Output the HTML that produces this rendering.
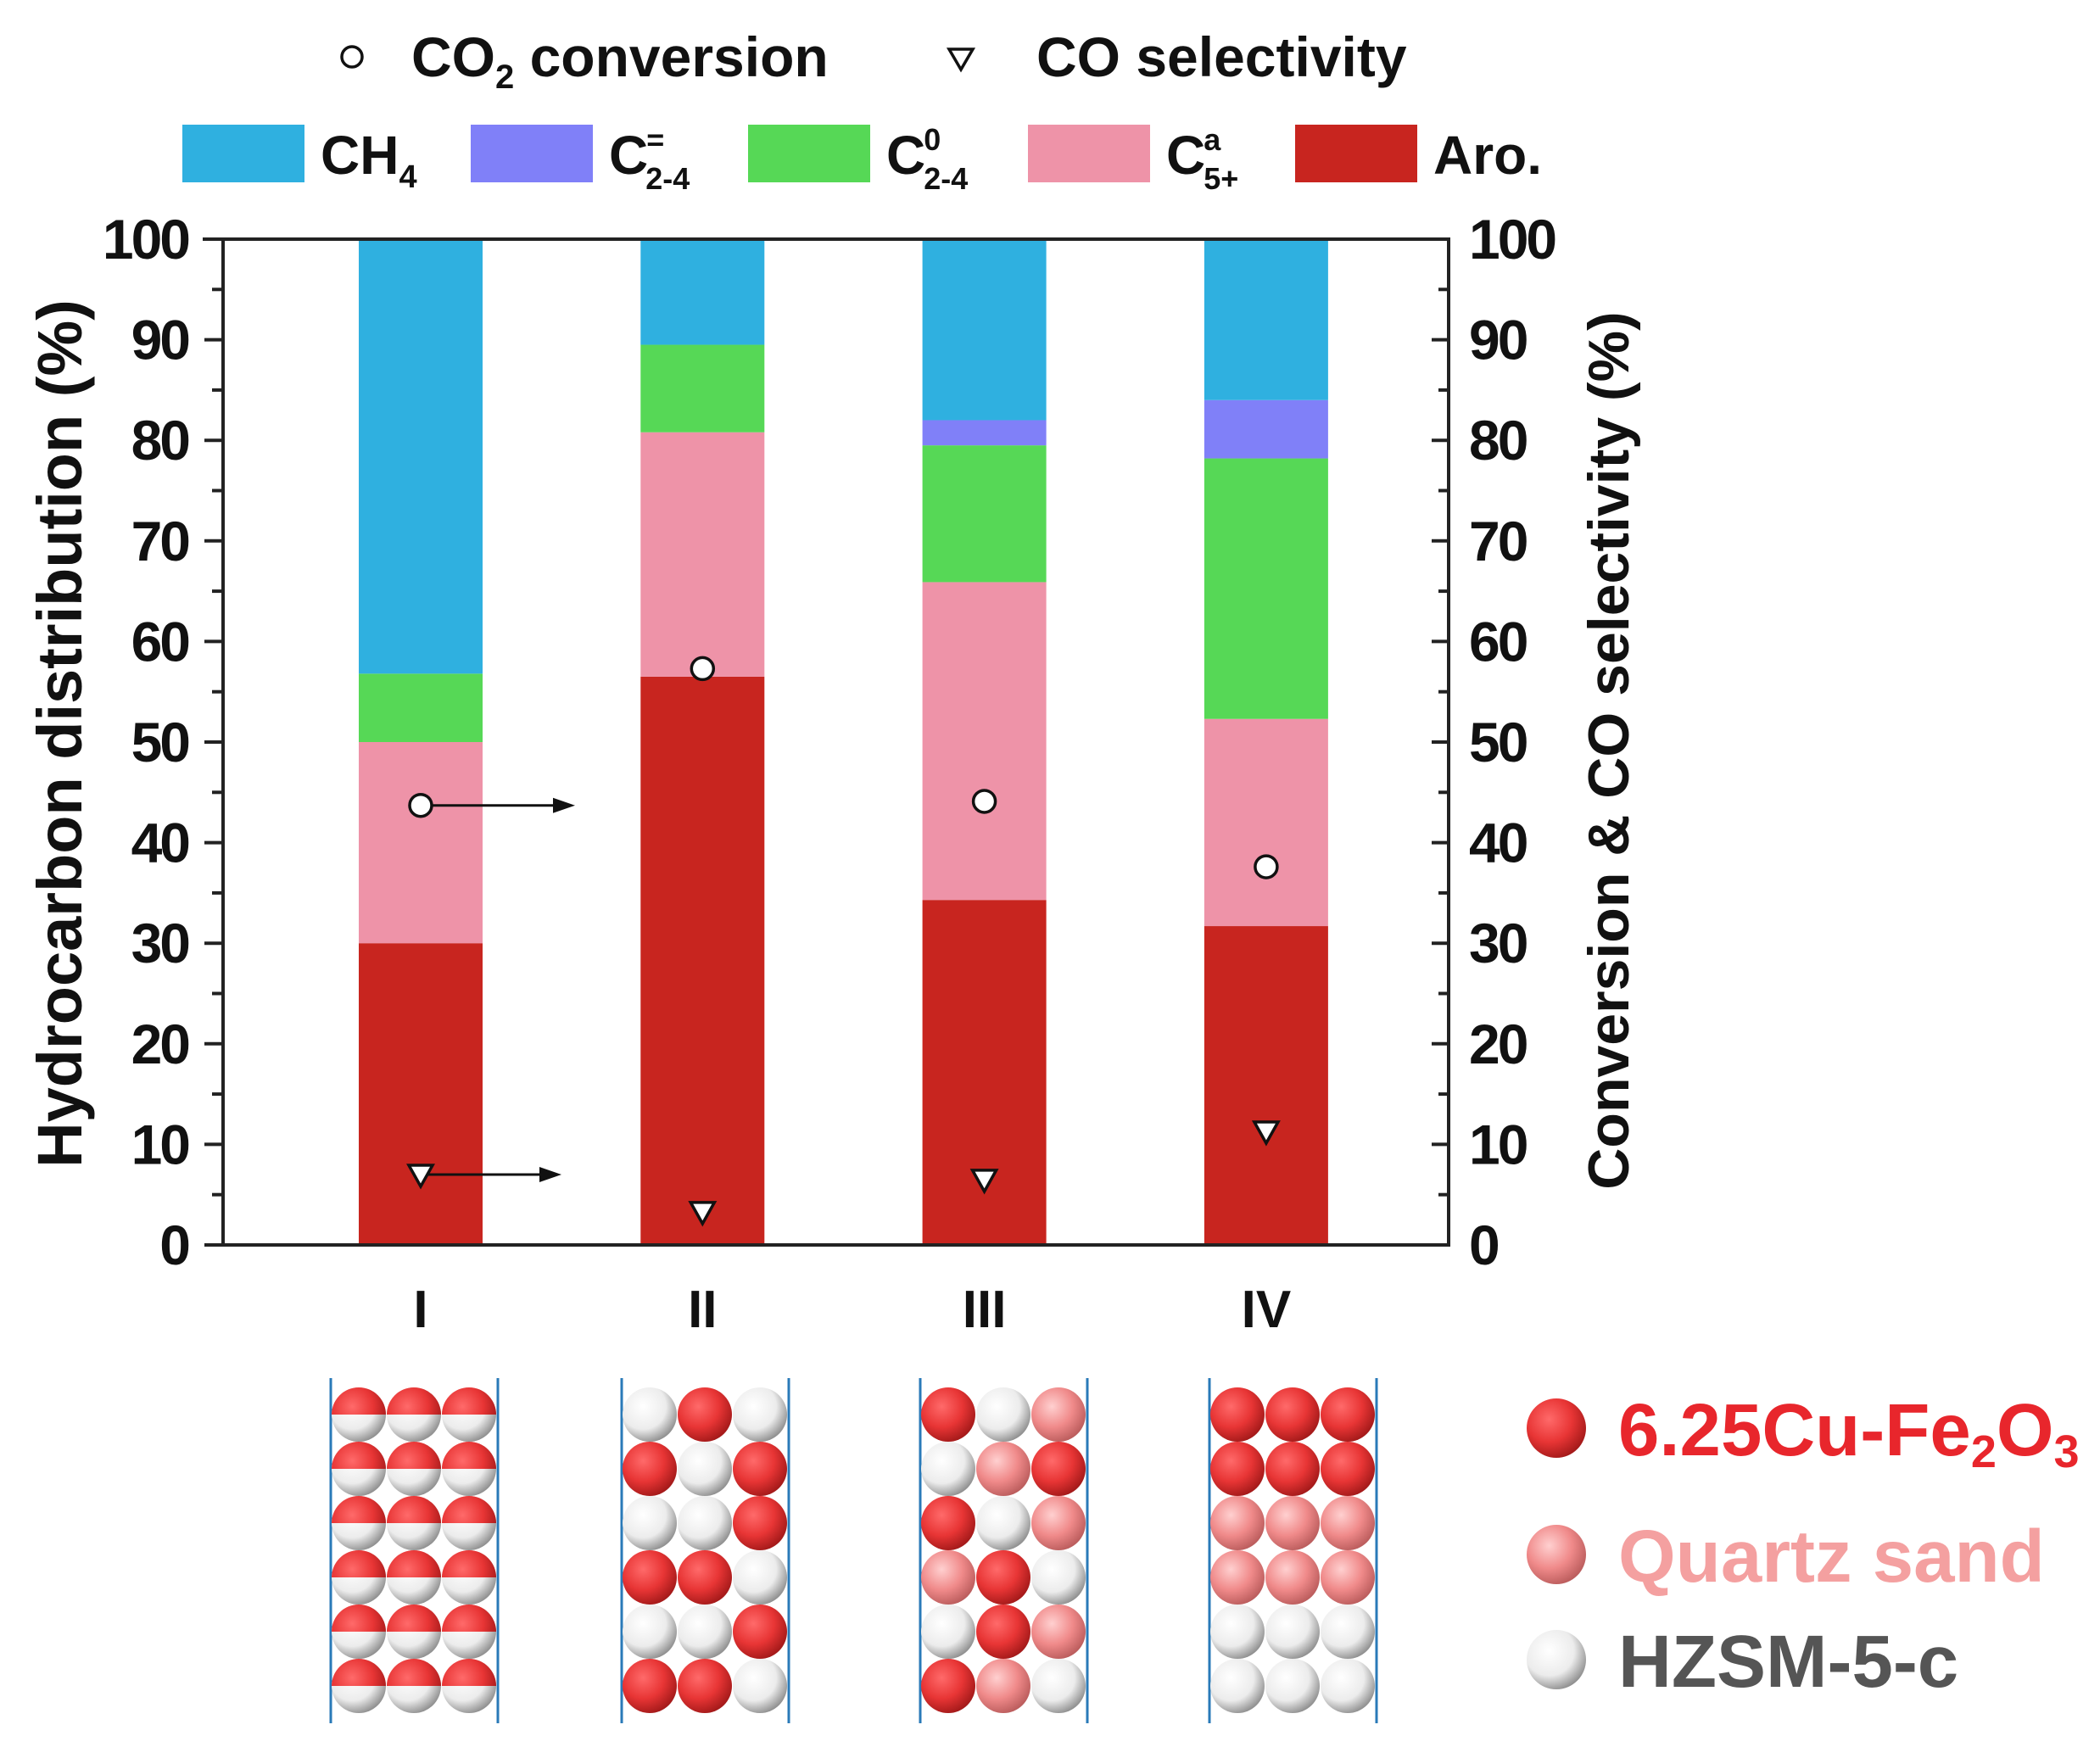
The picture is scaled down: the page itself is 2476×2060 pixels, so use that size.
<!DOCTYPE html>
<html><head><meta charset="utf-8"><style>
html,body{margin:0;padding:0;background:#fff;}
svg{display:block;font-family:"Liberation Sans",Arial,sans-serif;font-weight:bold;}
</style></head><body>
<svg id="chart" width="2476" height="2060" viewBox="0 0 2476 2060" xmlns="http://www.w3.org/2000/svg">
<defs>
<radialGradient id="gRed" cx="0.38" cy="0.35" r="0.7"><stop offset="0" stop-color="#ff6a6a"/><stop offset="0.55" stop-color="#e83535"/><stop offset="1" stop-color="#a01818"/></radialGradient>
<radialGradient id="gPink" cx="0.38" cy="0.35" r="0.7"><stop offset="0" stop-color="#ffd0d0"/><stop offset="0.55" stop-color="#f08a8a"/><stop offset="1" stop-color="#b85a5a"/></radialGradient>
<radialGradient id="gWhite" cx="0.38" cy="0.35" r="0.7"><stop offset="0" stop-color="#ffffff"/><stop offset="0.6" stop-color="#ececec"/><stop offset="1" stop-color="#8a8a8a"/></radialGradient>
<clipPath id="topHalf"><rect x="-40" y="-40" width="80" height="40"/></clipPath>
</defs>
<g id="legend"></g>
<g id="plot"></g>
<g id="beds"></g>
</svg>
<script>
const categories = ["I","II","III","IV"];
const aro = [30.0, 56.5, 34.3, 31.7];
const c5 = [20.0, 24.3, 31.6, 20.6];
const c0 = [6.8, 8.7, 13.6, 25.9];
const cOlef = [0.0, 0.0, 2.5, 5.8];
const ch4 = [43.2, 10.5, 18.0, 16.0];
const conversion = [43.7, 57.3, 44.1, 37.6];
const coSel = [7.0, 3.3, 6.5, 11.3];
const yTicks = [0,10,20,30,40,50,60,70,80,90,100];

const NS = "http://www.w3.org/2000/svg";
const X0 = 263, X1 = 1708, Y0 = 1468, Y1 = 282;
const yScale = v => Y0 - (v/100)*(Y0-Y1);
const xScale = i => 496 + i*332.3;
const BW = 146;
function mk(tag, attrs, parent){const e=document.createElementNS(NS,tag);for(const k in attrs)e.setAttribute(k,attrs[k]);parent.appendChild(e);return e;}
const plot = document.getElementById('plot');
const legend = document.getElementById('legend');
const beds = document.getElementById('beds');

const series = [
 {vals:aro,color:"#c8251f",name:"aro"},
 {vals:c5,color:"#ee93a8",name:"c5plus"},
 {vals:c0,color:"#56d856",name:"c2-4-paraffin"},
 {vals:cOlef,color:"#8080f8",name:"c2-4-olefin"},
 {vals:ch4,color:"#2fb0e0",name:"ch4"}];
categories.forEach((c,i)=>{
  let acc=0;
  series.forEach(s=>{
    const v=s.vals[i];
    if(v>0){
      const r=mk('rect',{x:xScale(i)-BW/2,y:yScale(acc+v),width:BW,height:yScale(acc)-yScale(acc+v),fill:s.color},plot);
      
      
    }
    acc+=v;
  });
  const t=mk('text',{x:xScale(i),y:1565,'font-size':62,'text-anchor':'middle',fill:'#111'},plot);
  t.textContent=c;
  
  
});
const frame=mk('path',{d:`M${X0} ${Y1}V${Y0}H${X1}V${Y1}H${X0-24}`,fill:'none',stroke:'#222','stroke-width':4},plot);


yTicks.forEach(v=>{
  const y=yScale(v);
  mk('line',{x1:X0-22,x2:X0,y1:y,y2:y,stroke:'#222','stroke-width':4},plot);
  mk('line',{x1:X1-20,x2:X1,y1:y,y2:y,stroke:'#222','stroke-width':4},plot);
  if(v<100){const ym=yScale(v+5);
    mk('line',{x1:X0-13,x2:X0,y1:ym,y2:ym,stroke:'#222','stroke-width':4},plot);
    mk('line',{x1:X1-12,x2:X1,y1:ym,y2:ym,stroke:'#222','stroke-width':4},plot);}
  const tl=mk('text',{x:222,y:y+23,'font-size':66,'text-anchor':'end','letter-spacing':-3,fill:'#111'},plot);
  tl.textContent=v;
  
  
  const tr=mk('text',{x:1732,y:y+23,'font-size':66,'letter-spacing':-3,fill:'#111'},plot);
  tr.textContent=v;
  
  
});
const yl=mk('text',{x:0,y:0,'font-size':74,'text-anchor':'middle',transform:`translate(96,${(Y0+Y1)/2-10}) rotate(-90)`,fill:'#111'},plot);
yl.textContent="Hydrocarbon distribution (%)";


const yr=mk('text',{x:0,y:0,'font-size':68,'text-anchor':'middle',transform:`translate(1920,${(Y0+Y1)/2+10}) rotate(-90)`,fill:'#111'},plot);
yr.textContent="Conversion & CO selectivity (%)";


function arrow(x,y,x2,name){
  const g=mk('g',{},plot);
  
  
  mk('line',{x1:x,x2:x2-20,y1:y,y2:y,stroke:'#111','stroke-width':3},g);
  mk('path',{d:`M${x2} ${y}l-26 -9v18z`,fill:'#111'},g);
}
arrow(xScale(0),yScale(conversion[0]),678,'arrow-conversion');
arrow(xScale(0),yScale(coSel[0]),662,'arrow-selectivity');
categories.forEach((c,i)=>{
  const cc=mk('circle',{cx:xScale(i),cy:yScale(conversion[i]),r:13,fill:'#fff',stroke:'#111','stroke-width':3.5},plot);
  
  
  const x=xScale(i),y=yScale(coSel[i]);
  const tri=mk('path',{d:`M${x-14} ${y-11}H${x+14}L${x} ${y+14}Z`,fill:'#fff',stroke:'#111','stroke-width':3.5},plot);
  
  
});
function ltext(x,y,html,size,name){
  const t=mk('text',{x:x,y:y,'font-size':size,fill:'#111'},legend);
  t.innerHTML=html;
  
  
}
const lc=mk('circle',{cx:415,cy:67,r:12,fill:'#fff',stroke:'#111','stroke-width':3.5},legend);


ltext(485,90,'CO<tspan font-size="40" dy="14">2</tspan><tspan dy="-14"> conversion</tspan>',66,'legend-conversion');
const lt=mk('path',{d:'M1119 58H1147L1133 82Z',fill:'#fff',stroke:'#111','stroke-width':3.5},legend);


ltext(1222,90,'CO selectivity',66,'legend-selectivity');
const sw=[[215,'#2fb0e0','CH<tspan font-size="38" dy="16">4</tspan>','legend-ch4'],
 [555,'#8080f8','C<tspan font-size="36" dx="-2" dy="-28">=</tspan><tspan font-size="36" dx="-22" dy="46">2-4</tspan>','legend-c2-4-olefin'],
 [882,'#56d856','C<tspan font-size="36" dx="-2" dy="-28">0</tspan><tspan font-size="36" dx="-20" dy="46">2-4</tspan>','legend-c2-4-paraffin'],
 [1212,'#ee93a8','C<tspan font-size="36" dx="-2" dy="-28">a</tspan><tspan font-size="36" dx="-20" dy="46">5+</tspan>','legend-c5plus'],
 [1527,'#c8251f','Aro.','legend-aro']];
sw.forEach(s=>{
  const r=mk('rect',{x:s[0],y:147,width:144,height:68,fill:s[1]},legend);
  
  
  ltext(s[0]+163,205,s[2],64,s[3]);
});
const patterns=[
 ["HHH","HHH","HHH","HHH","HHH","HHH"],
 ["WRW","RWR","WWR","RRW","WWR","RRW"],
 ["RWP","WPR","RWP","PRW","WRP","RPW"],
 ["RRR","RRR","PPP","PPP","WWW","WWW"]];
const colLeft=[390,733,1085,1426];
patterns.forEach((p,ci)=>{
  const g=mk('g',{},beds);
  
  
  const L=colLeft[ci];
  mk('line',{x1:L,x2:L,y1:1625,y2:2032,stroke:'#2a7ab8','stroke-width':3},g);
  mk('line',{x1:L+197,x2:L+197,y1:1625,y2:2032,stroke:'#2a7ab8','stroke-width':3},g);
  p.forEach((row,ri)=>{
    [...row].forEach((k,ki)=>{
      const cx=L+33+ki*65, cy=1668+ri*64;
      if(k==='H'){
        mk('circle',{cx:cx,cy:cy,r:32,fill:'url(#gWhite)'},g);
        const gg=mk('g',{transform:`translate(${cx},${cy})`},g);
        mk('circle',{cx:0,cy:0,r:32,fill:'url(#gRed)','clip-path':'url(#topHalf)'},gg);
      } else {
        mk('circle',{cx:cx,cy:cy,r:32,fill:k==='R'?'url(#gRed)':k==='P'?'url(#gPink)':'url(#gWhite)'},g);
      }
    });
  });
});
const bl=[[1684,'url(#gRed)','#e8262c','6.25Cu-Fe<tspan font-size="54" dy="14">2</tspan><tspan dy="-14">O</tspan><tspan font-size="54" dy="14">3</tspan>','legend-cu-fe2o3'],
 [1833,'url(#gPink)','#f4a0a0','Quartz sand','legend-quartz-sand'],
 [1957,'url(#gWhite)','#555','HZSM-5-c','legend-hzsm-5-c']];
bl.forEach(b=>{
  const c=mk('circle',{cx:1835,cy:b[0],r:35,fill:b[1]},beds);
  
  
  const t=mk('text',{x:1908,y:b[0]+32,'font-size':87,fill:b[2]},beds);
  t.innerHTML=b[3];
  
  
});
</script>
</body></html>
